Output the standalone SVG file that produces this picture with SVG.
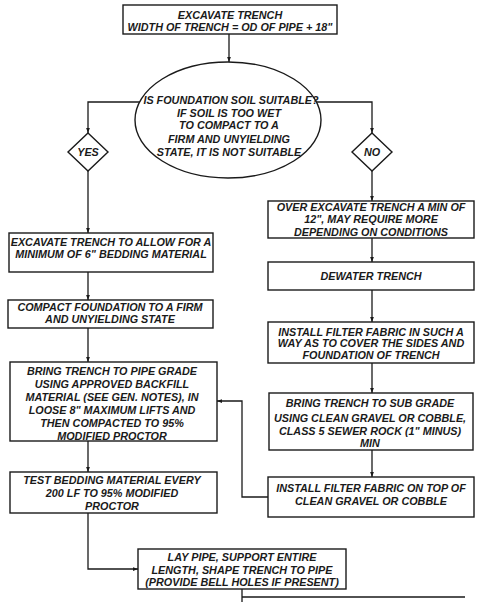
<svg xmlns="http://www.w3.org/2000/svg" width="488" height="602" viewBox="0 0 488 602">
<style>
.b{fill:#fff;stroke:#1a1a1a;stroke-width:1.4}
.t{font-family:"Liberation Sans",Arial,sans-serif;font-weight:bold;font-style:italic;font-size:10.8px;fill:#1a1a1a;text-anchor:middle}
.c{fill:none;stroke:#1a1a1a;stroke-width:1.3}
</style>
<defs>
<marker id="a" viewBox="0 0 8 8" refX="8" refY="4" markerWidth="5" markerHeight="5" orient="auto" markerUnits="userSpaceOnUse">
<path d="M0,1 L8,4 L0,7 Z" fill="#1a1a1a"/>
</marker>
</defs>
<rect width="488" height="602" fill="#fff"/>
<g id="connectors">
<path class="c" d="M229,34 V62" marker-end="url(#a)"/>
<path class="c" d="M140,102 H88 V133" marker-end="url(#a)"/>
<path class="c" d="M316,102 H372 V133" marker-end="url(#a)"/>
<path class="c" d="M88,171 V233" marker-end="url(#a)"/>
<path class="c" d="M88,272 V300" marker-end="url(#a)"/>
<path class="c" d="M88,328 V362" marker-end="url(#a)"/>
<path class="c" d="M88,441 V472" marker-end="url(#a)"/>
<path class="c" d="M88,513 V569 H138" marker-end="url(#a)"/>
<path class="c" d="M372,171 V201" marker-end="url(#a)"/>
<path class="c" d="M372,238 V262" marker-end="url(#a)"/>
<path class="c" d="M372,290 V322" marker-end="url(#a)"/>
<path class="c" d="M372,363 V393" marker-end="url(#a)"/>
<path class="c" d="M372,450 V477" marker-end="url(#a)"/>
<path class="c" d="M268,497 H242 V401 H217" marker-end="url(#a)"/>
<path class="c" d="M242,589 V602 M242,597 H465"/>
</g>
<g id="n-excavate">
<rect class="b" x="123" y="5" width="214" height="29"/>
<text class="t" x="230" y="19">EXCAVATE TRENCH</text>
<text class="t" x="230" y="31">WIDTH OF TRENCH = OD OF PIPE + 18"</text>
</g>
<g id="n-soil">
<ellipse class="b" cx="228" cy="120" rx="93" ry="58"/>
<text class="t" x="231" y="104">IS FOUNDATION SOIL SUITABLE?</text>
<text class="t" x="229" y="117">IF SOIL IS TOO WET</text>
<text class="t" x="229" y="129">TO COMPACT TO A</text>
<text class="t" x="229" y="143">FIRM AND UNYIELDING</text>
<text class="t" x="229" y="156">STATE, IT IS NOT SUITABLE</text>
</g>
<g id="n-yes">
<path class="b" d="M88,133 L108,152 L88,171 L68,152 Z"/>
<text class="t" x="88" y="156">YES</text>
</g>
<g id="n-no">
<path class="b" d="M372,133 L392,152 L372,171 L352,152 Z"/>
<text class="t" x="372" y="156">NO</text>
</g>
<g id="n-excavate6">
<rect class="b" x="9" y="233" width="204" height="39"/>
<text class="t" x="111" y="246">EXCAVATE TRENCH TO ALLOW FOR A</text>
<text class="t" x="111" y="258">MINIMUM OF 6" BEDDING MATERIAL</text>
</g>
<g id="n-compact">
<rect class="b" x="8" y="300" width="205" height="28"/>
<text class="t" x="110" y="311">COMPACT FOUNDATION TO A FIRM</text>
<text class="t" x="110" y="323">AND UNYIELDING STATE</text>
</g>
<g id="n-pipegrade">
<rect class="b" x="10" y="362" width="207" height="79"/>
<text class="t" x="112" y="375">BRING TRENCH TO PIPE GRADE</text>
<text class="t" x="112" y="388">USING APPROVED BACKFILL</text>
<text class="t" x="112" y="401">MATERIAL (SEE GEN. NOTES), IN</text>
<text class="t" x="112" y="414">LOOSE 8" MAXIMUM LIFTS AND</text>
<text class="t" x="112" y="427">THEN COMPACTED TO 95%</text>
<text class="t" x="112" y="440">MODIFIED PROCTOR</text>
</g>
<g id="n-test">
<rect class="b" x="10" y="472" width="207" height="41"/>
<text class="t" x="112" y="484">TEST BEDDING MATERIAL EVERY</text>
<text class="t" x="112" y="497">200 LF TO 95% MODIFIED</text>
<text class="t" x="112" y="510">PROCTOR</text>
</g>
<g id="n-laypipe">
<rect class="b" x="138" y="549" width="208" height="40"/>
<text class="t" x="242" y="561">LAY PIPE, SUPPORT ENTIRE</text>
<text class="t" x="242" y="574">LENGTH, SHAPE TRENCH TO PIPE</text>
<text class="t" x="242" y="586">(PROVIDE BELL HOLES IF PRESENT)</text>
</g>
<g id="n-overexcavate">
<rect class="b" x="268" y="201" width="206" height="37"/>
<text class="t" x="371" y="211">OVER EXCAVATE TRENCH A MIN OF</text>
<text class="t" x="371" y="223">12", MAY REQUIRE MORE</text>
<text class="t" x="371" y="236">DEPENDING ON CONDITIONS</text>
</g>
<g id="n-dewater">
<rect class="b" x="268" y="262" width="206" height="28"/>
<text class="t" x="371" y="280">DEWATER TRENCH</text>
</g>
<g id="n-fabric1">
<rect class="b" x="268" y="322" width="206" height="41"/>
<text class="t" x="371" y="336">INSTALL FILTER FABRIC IN SUCH A</text>
<text class="t" x="371" y="347">WAY AS TO COVER THE SIDES AND</text>
<text class="t" x="371" y="359">FOUNDATION OF TRENCH</text>
</g>
<g id="n-subgrade">
<rect class="b" x="269" y="393" width="204" height="57"/>
<text class="t" x="370" y="407">BRING TRENCH TO SUB GRADE</text>
<text class="t" x="370" y="422">USING CLEAN GRAVEL OR COBBLE,</text>
<text class="t" x="370" y="435">CLASS 5 SEWER ROCK (1" MINUS)</text>
<text class="t" x="370" y="447">MIN</text>
</g>
<g id="n-fabric2">
<rect class="b" x="268" y="477" width="206" height="40"/>
<text class="t" x="371" y="492">INSTALL FILTER FABRIC ON TOP OF</text>
<text class="t" x="371" y="505">CLEAN GRAVEL OR COBBLE</text>
</g>
</svg>
